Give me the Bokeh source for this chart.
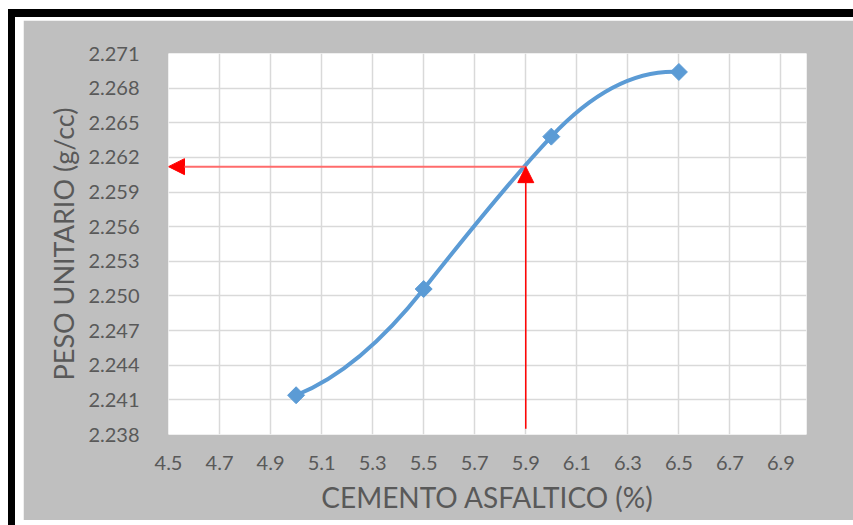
import numpy as np
from bokeh.plotting import figure
from bokeh.models import Range1d, FixedTicker, Arrow, NormalHead, NumeralTickFormatter, Div, Spacer
from bokeh.layouts import column, row
from bokeh.embed import file_html
from bokeh.resources import INLINE

# ---- data ----
asphalt_pct = [5.0, 5.5, 6.0, 6.5]
unit_weight = [2.2414, 2.2506, 2.2638, 2.2694]

x_ticks = [4.5, 4.7, 4.9, 5.1, 5.3, 5.5, 5.7, 5.9, 6.1, 6.3, 6.5, 6.7, 6.9]
y_ticks = [2.238, 2.241, 2.244, 2.247, 2.250, 2.253, 2.256, 2.259, 2.262, 2.265, 2.268, 2.271]
x_min, x_max = 4.5, 7.0
y_min, y_max = 2.238, 2.271

design_pct = 5.9
design_weight = 2.2612
arrow_base = 2.2385

BLUE = "#5B9BD5"
GRAY_BG = "#BFBFBF"
TXT = "#595959"
FONT = "Lato"

p = figure(width=830, height=500, output_backend="svg", toolbar_location=None,
           x_range=Range1d(x_min, x_max), y_range=Range1d(y_min, y_max),
           min_border_left=145, min_border_right=47, min_border_top=33, min_border_bottom=86)
p.margin = 0
p.border_fill_color = GRAY_BG
p.background_fill_color = "white"
p.outline_line_color = None

p.xaxis.ticker = FixedTicker(ticks=x_ticks)
p.yaxis.ticker = FixedTicker(ticks=y_ticks)
p.xaxis.formatter = NumeralTickFormatter(format="0.0")
p.yaxis.formatter = NumeralTickFormatter(format="0.000")
for ax in (p.xaxis, p.yaxis):
    ax.axis_line_color = None
    ax.major_tick_line_color = None
    ax.minor_tick_line_color = None
    ax.major_label_text_color = TXT
    ax.major_label_text_font = FONT
    ax.major_label_text_font_size = "20px"
    ax.axis_label_text_color = TXT
    ax.axis_label_text_font = FONT
    ax.axis_label_text_font_style = "normal"
p.xaxis.axis_label_text_font_size = "28px"
p.yaxis.axis_label_text_font_size = "27px"
p.xaxis.axis_label = "CEMENTO ASFALTICO (%)"
p.yaxis.axis_label = "PESO UNITARIO (g/cc)"
p.xaxis.major_label_standoff = 15
p.yaxis.major_label_standoff = 23
p.xaxis.axis_label_standoff = 7
p.yaxis.axis_label_standoff = 5

p.xgrid.ticker = FixedTicker(ticks=x_ticks)
p.ygrid.ticker = FixedTicker(ticks=y_ticks)
p.xgrid.grid_line_color = "#D9D9D9"
p.ygrid.grid_line_color = "#D9D9D9"
p.xgrid.grid_line_width = 1.5
p.ygrid.grid_line_width = 1.5

# smoothed line: cubic Hermite segments (drawn as Bezier glyphs) through the data points
xs = np.array(asphalt_pct)
ys = np.array(unit_weight)
h = np.diff(xs)
d = np.diff(ys) / h
m = np.empty(len(xs))
m[1:-1] = 1.25 * (d[:-1] * h[1:] + d[1:] * h[:-1]) / (h[:-1] + h[1:])
m[0] = 2 * d[0] - m[1]
m[-1] = 2 * d[-1] - m[-2]
p.bezier(x0=xs[:-1], y0=ys[:-1], x1=xs[1:], y1=ys[1:],
         cx0=xs[:-1] + h / 3, cy0=ys[:-1] + m[:-1] * h / 3,
         cx1=xs[1:] - h / 3, cy1=ys[1:] - m[1:] * h / 3,
         line_color=BLUE, line_width=4, line_cap="round")
p.scatter(xs, ys, marker="square", angle=np.pi / 4, size=12,
          fill_color=BLUE, line_color=BLUE)

# red arrows
p.add_layout(Arrow(x_start=design_pct, y_start=design_weight, x_end=x_min, y_end=design_weight,
                   line_color="#FF6B6B", line_width=2,
                   end=NormalHead(size=16, fill_color="red", line_color="red")))
p.add_layout(Arrow(x_start=design_pct, y_start=arrow_base, x_end=design_pct, y_end=design_weight,
                   line_color="red", line_width=1.5,
                   end=NormalHead(size=16, fill_color="red", line_color="red")))

# black frame around the chart (as in the reference screenshot)
top_bar = Div(text="", width=845, height=8, margin=0, styles={"background-color": "black"})
left_bar = Div(text="", width=7, height=508, margin=0, styles={"background-color": "black"})
inner = column(top_bar,
               row(left_bar, Spacer(width=8, margin=0),
                   column(Spacer(height=3, margin=0), p, margin=0), margin=0),
               margin=0)
layout = column(Spacer(height=9, margin=0),
                row(Spacer(width=8, margin=0), inner, margin=0),
                margin=0)

open("out.html", "w").write(file_html(layout, INLINE))
